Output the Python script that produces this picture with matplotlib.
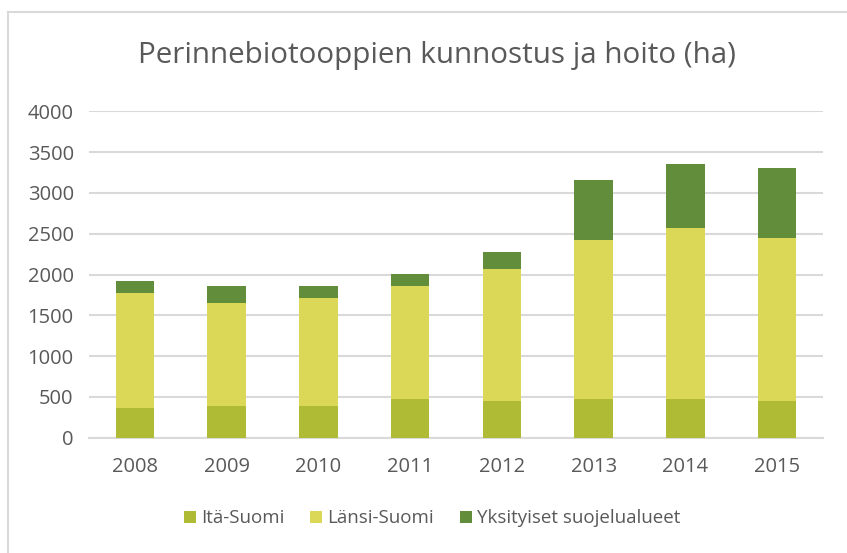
import numpy as np
import matplotlib
matplotlib.use("Agg")
from matplotlib import pyplot as plt
from matplotlib.lines import Line2D

years = ['2008', '2009', '2010', '2011', '2012', '2013', '2014', '2015']
ita = [360, 390, 390, 475, 450, 475, 475, 450]
lansi = [1410, 1260, 1325, 1385, 1620, 1950, 2090, 2000]
yksityiset = [150, 215, 150, 150, 205, 730, 795, 855]
series_names = ['Itä-Suomi', 'Länsi-Suomi', 'Yksityiset suojelualueet']
colors = ['#AFBB35', '#DBD857', '#628E3C']
yticks = [0, 500, 1000, 1500, 2000, 2500, 3000, 3500, 4000]

plt.rcParams['font.family'] = ['Open Sans', 'DejaVu Sans']
txt = '#595959'

W, H = 847, 553
fig = plt.figure(figsize=(W / 100, H / 100), dpi=100)
ax = fig.add_axes([89 / W, 1 - 437.5 / H, (823 - 89) / W, (437.5 - 111.5) / H])

x = np.arange(len(years))
bottom = np.zeros(len(years))
for vals, name, c in zip([ita, lansi, yksityiset], series_names, colors):
    ax.bar(x, vals, 0.42, bottom=bottom, color=c, label=name, zorder=3)
    bottom += np.array(vals)

ax.set_xlim(-0.5, len(years) - 0.5)
ax.set_ylim(0, 4000)
ax.set_yticks(yticks)
ax.set_xticks(x)
ax.set_xticklabels(years)
ax.grid(axis='y', color='#D9D9D9', linewidth=1.5, zorder=0)
for s in ['top', 'right', 'left']:
    ax.spines[s].set_visible(False)
ax.spines['bottom'].set_color('#D9D9D9')
ax.spines['bottom'].set_linewidth(1.5)
ax.tick_params(length=0, labelsize=14.5, labelcolor=txt)
ax.tick_params(axis='y', pad=11)
ax.tick_params(axis='x', pad=14)

fig.text(437 / W, 1 - 55 / H, 'Perinnebiotooppien kunnostus ja hoito (ha)',
         ha='center', va='center', fontsize=21.3, color=txt)

ax.legend(loc='center', bbox_to_anchor=((432 - 89) / (823 - 89), -0.248), ncol=3,
          frameon=False, fontsize=13.5, labelcolor=txt, handlelength=0.65,
          handleheight=0.65, handletextpad=0.25, columnspacing=1.4)

# outer chart frame
fig.add_artist(Line2D([8 / W, 8 / W], [0, 1 - 12 / H], color='#D9D9D9', lw=1.5))
fig.add_artist(Line2D([8 / W, 1], [1 - 12 / H, 1 - 12 / H], color='#D9D9D9', lw=1.5))

fig.savefig('out.png', dpi=100, facecolor='white')
